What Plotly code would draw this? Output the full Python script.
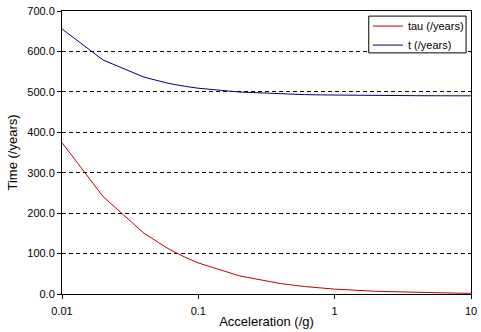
import plotly.graph_objects as go

# Acceleration in units of g, and the resulting trip times (years)
acceleration = [0.01, 0.02, 0.04, 0.06, 0.08, 0.1, 0.2, 0.4, 0.6, 0.8,
                1, 2, 4, 6, 8, 10]
tau_years = [374.5, 241.0, 150.1, 112.2, 90.8, 76.8, 44.9, 25.8, 18.5, 14.6,
             12.1, 6.7, 3.7, 2.6, 2.0, 1.7]
t_years = [655.6, 578.8, 536.3, 521.3, 513.6, 509.0, 499.6, 494.8, 493.2, 492.4,
           491.9, 490.9, 490.5, 490.3, 490.3, 490.2]

x_tick_vals = [0.01, 0.1, 1, 10]
x_tick_text = ["0.01", "0.1", "1", "10"]

FONT = "Liberation Sans, Arial, sans-serif"

fig = go.Figure()
fig.add_trace(go.Scatter(x=acceleration, y=tau_years, mode="lines",
                         name="tau (/years)",
                         line=dict(color="#C00000", width=1)))
fig.add_trace(go.Scatter(x=acceleration, y=t_years, mode="lines",
                         name="t (/years)",
                         line=dict(color="#000080", width=1)))

# White framed box behind the legend entries (hides the gridline beneath)
fig.add_shape(type="rect", xref="paper", yref="paper",
              x0=0.750, x1=0.988, y0=0.852, y1=0.982,
              fillcolor="white", line=dict(color="black", width=1),
              layer="above")

fig.update_layout(
    width=481, height=332,
    margin=dict(l=62, r=10, t=11, b=38, autoexpand=False),
    paper_bgcolor="white", plot_bgcolor="white",
    font=dict(family=FONT, size=11, color="black"),
    showlegend=True,
    legend=dict(x=0.748, y=0.998, xanchor="left", yanchor="top",
                bgcolor="rgba(0,0,0,0)", borderwidth=0,
                font=dict(size=11), itemwidth=30),
)

fig.update_xaxes(
    type="log", range=[-2, 1],
    tickvals=x_tick_vals, ticktext=x_tick_text,
    ticks="outside", ticklen=4, tickcolor="black", tickwidth=1,
    ticklabelstandoff=3, automargin=False,
    showline=True, linecolor="black", linewidth=1, mirror=True,
    showgrid=False, zeroline=False,
    title=dict(text="Acceleration (/g)", font=dict(size=13), standoff=0),
    tickfont=dict(size=11),
)
fig.update_yaxes(
    range=[0, 700], dtick=100, tickformat=".1f",
    ticks="outside", ticklen=4, tickcolor="black", tickwidth=1,
    automargin=False,
    showline=True, linecolor="black", linewidth=1, mirror=True,
    showgrid=True, gridcolor="black", gridwidth=1, griddash="4px,3px",
    zeroline=False,
    title=dict(text="Time (/years)", font=dict(size=13), standoff=6),
    tickfont=dict(size=11),
)

fig.write_html("out.html")
